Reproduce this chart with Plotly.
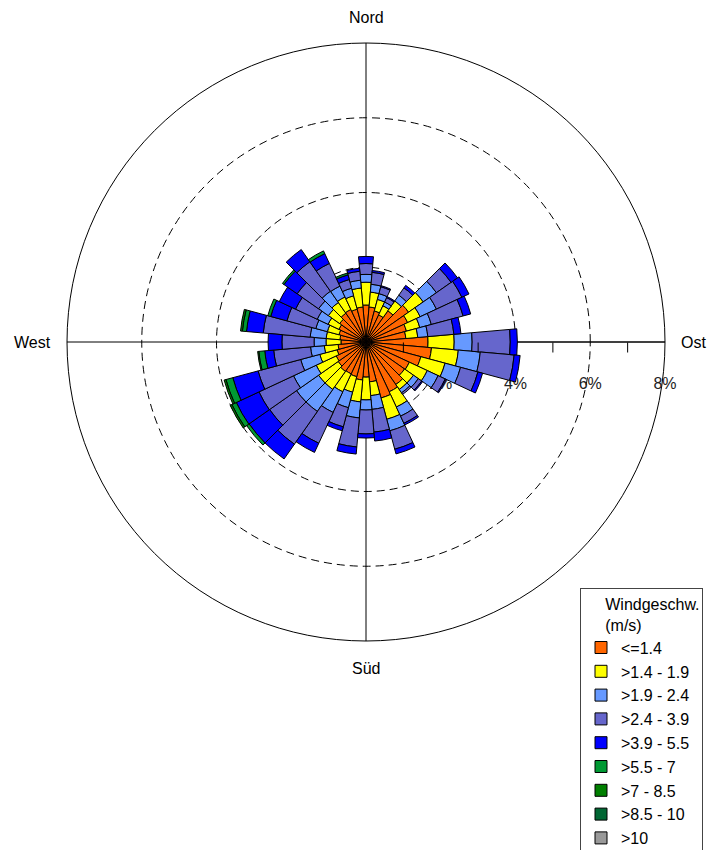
import plotly.graph_objects as go

# Wind directions (degrees, compass)
directions = [0, 10, 20, 30, 40, 50, 60, 70, 80, 90, 100, 110, 120, 130, 140, 150, 160, 170,
              180, 190, 200, 210, 220, 230, 240, 250, 260, 270, 280, 290, 300, 310, 320, 330, 340, 350]

# Frequency (%) per speed class and direction
s_le14 = [0.99, 0.94, 0.86, 0.80, 1.02, 1.39, 1.23, 1.12, 1.07, 1.66, 1.76, 1.52, 1.28, 1.26, 1.39, 1.47, 1.55, 1.07,
          0.94, 1.02, 0.96, 0.94, 0.96, 0.91, 0.88, 0.80, 0.75, 0.67, 0.70, 0.75, 0.80, 0.86, 0.94, 0.96, 0.91, 0.94]
s_14_19 = [0.61, 0.40, 0.32, 0.27, 0.32, 0.48, 0.37, 0.37, 0.32, 0.70, 0.72, 0.67, 0.53, 0.29, 0.16, 0.45, 0.59, 0.37,
           0.61, 0.59, 0.43, 0.53, 0.59, 0.64, 0.59, 0.48, 0.37, 0.40, 0.37, 0.32, 0.32, 0.37, 0.35, 0.37, 0.37, 0.51]
s_19_24 = [0.21, 0.21, 0.16, 0.11, 0.19, 0.43, 0.48, 0.32, 0.27, 0.48, 0.59, 0.43, 0.32, 0.16, 0.11, 0.27, 0.32, 0.37,
           0.27, 0.43, 0.43, 0.61, 0.72, 0.72, 0.67, 0.53, 0.37, 0.32, 0.43, 0.32, 0.32, 0.32, 0.37, 0.32, 0.21, 0.21]
s_24_39 = [0.29, 0.32, 0.19, 0.13, 0.24, 0.48, 0.75, 0.88, 0.70, 1.02, 0.91, 0.48, 0.21, 0.11, 0.05, 0.21, 0.51, 0.61,
           0.64, 0.78, 0.53, 0.91, 1.07, 0.88, 1.02, 1.18, 0.99, 0.86, 1.26, 0.80, 0.64, 0.70, 0.96, 0.67, 0.24, 0.24]
s_39_55 = [0.19, 0.05, 0.03, 0.03, 0.08, 0.21, 0.21, 0.21, 0.19, 0.19, 0.16, 0.13, 0.03, 0.03, 0.00, 0.05, 0.13, 0.24,
           0.11, 0.19, 0.11, 0.27, 0.48, 0.67, 0.67, 0.70, 0.24, 0.37, 0.45, 0.45, 0.48, 0.43, 0.40, 0.29, 0.13, 0.08]
s_55_70 = [0, 0, 0, 0, 0, 0, 0, 0, 0, 0, 0, 0, 0, 0, 0, 0, 0, 0,
           0, 0, 0, 0, 0, 0.08, 0.13, 0.19, 0.16, 0, 0.11, 0.08, 0, 0.05, 0, 0.08, 0.05, 0]
s_70_85 = [0, 0, 0, 0, 0, 0, 0, 0, 0, 0, 0, 0, 0, 0, 0, 0, 0, 0,
           0, 0, 0, 0, 0, 0, 0.05, 0.05, 0.03, 0, 0.05, 0, 0, 0, 0, 0, 0, 0]
s_85_10 = [0] * 36
s_gt10 = [0] * 36

class_names = ["<=1.4", ">1.4 - 1.9", ">1.9 - 2.4", ">2.4 - 3.9", ">3.9 - 5.5",
               ">5.5 - 7", ">7 - 8.5", ">8.5 - 10", ">10"]
class_values = [s_le14, s_14_19, s_19_24, s_24_39, s_39_55, s_55_70, s_70_85, s_85_10, s_gt10]
class_colors = ["#FF6600", "#FFFF00", "#6699FF", "#6666CC", "#0000FF",
                "#009933", "#007F00", "#006633", "#999999"]

compass_labels = ["Nord", "Ost", "Süd", "West"]
radial_ticks = [2, 4, 6, 8]
radial_ticktext = ["2%", "4%", "6%", "8%"]
minor_ticks = [1, 3, 5, 7]

FONT = "Liberation Sans, Arial, sans-serif"
W, H = 720, 850
OFF = 8  # page body margin of the browser


def px_x(x):
    return (x - OFF) / W


def px_y(y):
    return 1 - (y - OFF) / H


fig = go.Figure()
for i, (name, vals, col) in enumerate(zip(class_names, class_values, class_colors)):
    fig.add_trace(go.Barpolar(
        r=vals, theta=directions, name=name,
        marker=dict(color=col, line=dict(color="black", width=1)),
        legendgroup=f"g{i}", subplot="polar",
    ))

# empty trace to activate the overlay subplot carrying minor ticks
fig.add_trace(go.Scatterpolar(r=[], theta=[], subplot="polar2", showlegend=False))

dom_x = [px_x(67), px_x(665)]
dom_y = [px_y(641), px_y(43)]

fig.update_layout(
    width=W, height=H,
    margin=dict(l=0, r=0, t=0, b=0, autoexpand=False),
    paper_bgcolor="white",
    font=dict(family=FONT, size=16, color="black"),
    polar=dict(
        domain=dict(x=dom_x, y=dom_y),
        bgcolor="white",
        bargap=0,
        barmode="stack",
        angularaxis=dict(
            direction="clockwise", rotation=90,
            tickvals=[0, 90, 180, 270], showticklabels=False, ticks="",
            showgrid=True, gridcolor="black", gridwidth=1,
            showline=True, linecolor="black", linewidth=1,
            layer="below traces",
        ),
        radialaxis=dict(
            range=[0, 8], angle=0, side="clockwise",
            tickvals=radial_ticks, ticktext=radial_ticktext,
            ticks="outside", ticklen=27, tickcolor="rgba(0,0,0,0)",
            tickfont=dict(size=16, color="#222"),
            showgrid=True, gridcolor="black", gridwidth=1, griddash="8px,5px",
            showline=True, linecolor="black", linewidth=1,
            layer="below traces",
        ),
    ),
    polar2=dict(
        domain=dict(x=dom_x, y=dom_y),
        bgcolor="rgba(0,0,0,0)",
        angularaxis=dict(visible=False, direction="clockwise", rotation=90),
        radialaxis=dict(
            range=[0, 8], angle=0, side="clockwise",
            tickvals=minor_ticks, ticks="outside", ticklen=10, tickcolor="black",
            showticklabels=False, showgrid=False, showline=False,
        ),
    ),
    legend=dict(
        x=px_x(580), y=px_y(588), xanchor="left", yanchor="top",
        bgcolor="white", bordercolor="#444", borderwidth=1,
        font=dict(size=16, family=FONT),
        title=dict(text="     Windgeschw.<br>     (m/s)", font=dict(size=16, family=FONT)),
        tracegroupgap=2, traceorder="normal",
    ),
    showlegend=True,
)

label_pos = [(366, 18), (693, 343), (366, 668), (32, 343)]
for txt, (px, py) in zip(compass_labels, label_pos):
    fig.add_annotation(text=txt, x=px_x(px), y=px_y(py), xref="paper", yref="paper",
                       showarrow=False, font=dict(size=16, family=FONT, color="black"),
                       xanchor="center", yanchor="middle")

fig.write_html("out.html")
